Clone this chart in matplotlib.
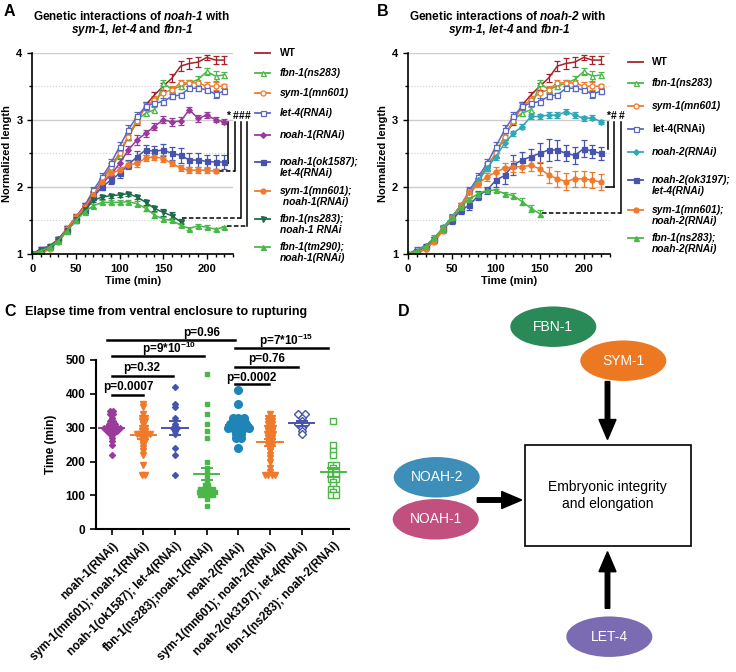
import numpy as np
import matplotlib
matplotlib.use('Agg')
import matplotlib.pyplot as plt
from matplotlib.lines import Line2D
from matplotlib.patches import Ellipse, Rectangle

plt.rcParams['font.family'] = ['Liberation Sans', 'DejaVu Sans']
plt.rcParams['font.weight'] = 'bold'
plt.rcParams['axes.labelweight'] = 'bold'
plt.rcParams['mathtext.fontset'] = 'custom'
plt.rcParams['mathtext.it'] = 'Liberation Sans:italic:bold'
plt.rcParams['mathtext.rm'] = 'Liberation Sans:italic:bold'
plt.rcParams['mathtext.bf'] = 'Liberation Sans:bold'

W, H = 736, 672

# ---------------- data: growth curves (normalized length, mean and SEM) ----------------
times = list(range(0, 221, 10))

wt = [1.0, 1.03, 1.1, 1.2, 1.38, 1.55, 1.72, 1.9, 2.1, 2.3, 2.5, 2.75, 2.97, 3.22, 3.37, 3.5, 3.62, 3.8, 3.84, 3.86, 3.93, 3.89, 3.89]
wt_err = [0, .02, .02, .03, .03, .03, .04, .04, .04, .05, .05, .05, .05, .05, .05, .05, .06, .07, .08, .08, .04, .06, .06]
fbn1 = [1.0, 1.05, 1.12, 1.22, 1.38, 1.53, 1.7, 1.88, 2.08, 2.28, 2.48, 2.75, 3.0, 3.1, 3.15, 3.55, 3.45, 3.5, 3.55, 3.6, 3.72, 3.65, 3.67]
fbn1_err = [0, .02, .02, .03, .03, .03, .03, .04, .04, .04, .04, .05, .05, .04, .04, .05, .04, .04, .04, .05, .05, .07, .04]
sym1 = [1.0, 1.0, 1.08, 1.18, 1.35, 1.52, 1.7, 1.88, 2.08, 2.3, 2.5, 2.75, 2.98, 3.2, 3.3, 3.4, 3.45, 3.55, 3.55, 3.55, 3.5, 3.5, 3.5]
sym1_err = [0, .02, .02, .02, .03, .03, .03, .04, .04, .05, .05, .05, .05, .05, .05, .12, .05, .05, .05, .05, .06, .06, .03]
let4 = [1.0, 1.07, 1.12, 1.22, 1.38, 1.55, 1.72, 1.95, 2.15, 2.35, 2.6, 2.85, 3.05, 3.2, 3.25, 3.27, 3.35, 3.37, 3.47, 3.47, 3.45, 3.38, 3.43]
let4_err = [0, .03, .03, .03, .03, .04, .04, .05, .05, .06, .07, .07, .07, .06, .05, .05, .04, .03, .03, .04, .04, .05, .04]

noah1 = [1.0, 1.05, 1.1, 1.22, 1.38, 1.55, 1.72, 1.88, 2.05, 2.18, 2.35, 2.55, 2.7, 2.8, 2.9, 3.0, 2.97, 2.98, 3.15, 3.02, 3.07, 3.0, 2.97]
noah1_err = [0, .02, .02, .03, .03, .04, .04, .04, .05, .05, .06, .06, .07, .05, .05, .05, .06, .06, .04, .05, .04, .04, .04]
noah1_let4 = [1.0, 1.08, 1.12, 1.22, 1.35, 1.5, 1.65, 1.85, 2.0, 2.1, 2.2, 2.33, 2.45, 2.55, 2.53, 2.55, 2.5, 2.47, 2.4, 2.4, 2.38, 2.37, 2.37]
noah1_let4_err = [0, .03, .03, .03, .04, .04, .04, .05, .05, .05, .06, .07, .08, .08, .08, .09, .1, .11, .1, .1, .1, .1, .1]
sym1_noah1 = [1.0, 1.05, 1.1, 1.2, 1.37, 1.55, 1.7, 1.88, 2.08, 2.2, 2.25, 2.33, 2.35, 2.43, 2.45, 2.42, 2.35, 2.28, 2.25, 2.25, 2.25, 2.23]
sym1_noah1_err = [0, .02, .02, .02, .03, .03, .03, .04, .04, .05, .05, .05, .05, .05, .05, .05, .04, .04, .04, .04, .04, .03]
fbn1_noah1 = [1.0, 1.05, 1.1, 1.2, 1.35, 1.5, 1.65, 1.8, 1.85, 1.87, 1.88, 1.9, 1.85, 1.77, 1.68, 1.62, 1.57, 1.48]
fbn1_noah1_err = [0, .02, .02, .03, .03, .03, .03, .03, .03, .03, .03, .03, .03, .04, .04, .05, .05, .04]
tm290_noah1 = [1.0, 1.05, 1.1, 1.2, 1.35, 1.5, 1.63, 1.72, 1.77, 1.77, 1.77, 1.78, 1.75, 1.68, 1.58, 1.52, 1.5, 1.43, 1.38, 1.42, 1.4, 1.37, 1.4]
tm290_noah1_err = [0, .02, .02, .03, .03, .03, .03, .03, .03, .03, .03, .03, .04, .04, .04, .03, .03, .03, .02, .03, .03, .02, .02]

noah2 = [1.0, 1.05, 1.12, 1.23, 1.4, 1.55, 1.72, 1.92, 2.1, 2.28, 2.45, 2.65, 2.8, 2.9, 3.05, 3.05, 3.07, 3.07, 3.12, 3.07, 3.02, 3.03, 2.97]
noah2_err = [0, .02, .02, .03, .03, .03, .04, .05, .04, .04, .05, .05, .04, .04, .04, .04, .04, .04, .04, .04, .04, .04, .03]
noah2_let4 = [1.0, 1.05, 1.12, 1.22, 1.37, 1.5, 1.65, 1.73, 1.87, 1.95, 2.1, 2.17, 2.33, 2.4, 2.45, 2.5, 2.55, 2.55, 2.5, 2.47, 2.57, 2.53, 2.5]
noah2_let4_err = [0, .02, .02, .03, .04, .05, .05, .07, .07, .05, .1, .12, .15, .12, .12, .15, .17, .15, .12, .13, .13, .1, .1]
sym1_noah2 = [1.0, 1.02, 1.08, 1.2, 1.37, 1.53, 1.72, 1.92, 2.05, 2.15, 2.22, 2.28, 2.3, 2.3, 2.32, 2.27, 2.18, 2.12, 2.08, 2.12, 2.12, 2.1, 2.07]
sym1_noah2_err = [0, .02, .02, .03, .03, .03, .04, .04, .05, .06, .08, .08, .08, .08, .08, .1, .12, .12, .12, .12, .12, .12, .12]
fbn1_noah2 = [1.0, 1.05, 1.12, 1.25, 1.38, 1.55, 1.7, 1.82, 1.9, 1.95, 1.95, 1.9, 1.87, 1.78, 1.68, 1.6]
fbn1_noah2_err = [0, .02, .02, .03, .03, .03, .03, .03, .03, .03, .02, .03, .04, .05, .05, .05]

# ---------------- data: panel C (time from ventral enclosure to rupture, min) ----------------
c_labels = ['noah-1(RNAi)', 'sym-1(mn601); noah-1(RNAi)', 'noah-1(ok1587); let-4(RNAi)',
            'fbn-1(ns283);noah-1(RNAi)', 'noah-2(RNAi)', 'sym-1(mn601); noah-2(RNAi)',
            'noah-2(ok3197); let-4(RNAi)', 'fbn-1(ns283); noah-2(RNAi)']
c_noah1 = [350, 350, 340, 340, 330, 320, 320, 310, 310, 310, 300, 300, 300, 300, 300, 300,
           290, 290, 290, 290, 280, 280, 270, 260, 250, 220]
c_sym1_noah1 = [370, 360, 340, 330, 330, 320, 320, 310, 300, 300, 290, 290, 280, 280, 280, 280,
                280, 270, 270, 260, 260, 250, 240, 230, 220, 190, 160, 160]
c_noah1_let4 = [420, 370, 360, 330, 310, 300, 300, 290, 280, 240, 220, 160]
c_fbn1_noah1 = [460, 370, 340, 310, 290, 270, 200, 180, 170, 160, 150, 140, 130, 130, 120, 120,
                120, 120, 120, 110, 110, 110, 110, 110, 110, 100, 100, 100, 100, 100, 90, 70]
c_noah2 = [410, 370, 330, 330, 330, 320, 320, 320, 310, 310, 310, 310, 300, 300, 300, 300, 300,
           290, 290, 280, 280, 270, 270, 240]
c_sym1_noah2 = [340, 330, 330, 320, 320, 310, 310, 300, 300, 300, 290, 290, 280, 280, 280, 270,
                270, 260, 260, 250, 250, 240, 230, 220, 210, 200, 180, 170, 160, 160, 160, 160]
c_noah2_let4 = [340, 340, 330, 320, 310, 310, 300, 290, 280]
c_fbn1_noah2 = [320, 250, 230, 220, 190, 190, 180, 170, 170, 160, 160, 150, 150, 140, 130, 120,
                120, 110, 100, 100]
# p-values: (text, group from, group to, line y, text x, text y)
pvals = [('p=0.0007', 0, 1.0, 396, 0.52, 421),
         ('p=0.32', 0, 1.93, 453, 0.95, 475),
         (r'p=9*10$^{\mathregular{-10}}$', 0, 2.9, 511, 1.81, 532),
         ('p=0.96', -0.15, 3.9, 558, 2.84, 581),
         ('p=0.0002', 3.9, 4.97, 430, 4.42, 448),
         ('p=0.76', 3.9, 5.9, 480, 4.89, 502),
         (r'p=7*10$^{\mathregular{-15}}$', 3.9, 6.83, 536, 5.52, 556)]

RED = '#a3242b'
GREEN = '#4bb749'
ORANGE = '#f07a2c'
BLUE = '#5a68c0'
PURPLE = '#9a3a9a'
NAVY = '#4654ae'
DKGREEN = '#1d6b4b'
CYAN = '#2fa9b8'
TEAL = '#1f85b6'

fig = plt.figure(figsize=(W / 100, H / 100), dpi=100)


def fx(px):
    return px / W


def fy(py):
    return 1 - py / H


def msize(marker):
    # diamonds look bigger than the other symbols at the same size
    return 2.9 if marker == 'D' else 3.6


def growth_axes(x0, x1):
    ax = fig.add_axes([fx(x0), fy(254), fx(x1) - fx(x0), fy(52.7) - fy(254)])
    ax.set_xlim(0, 230)
    ax.set_ylim(1, 4)
    ax.set_xticks([0, 50, 100, 150, 200])
    ax.set_xticks(range(0, 231, 10), minor=True)
    ax.set_yticks([1, 2, 3, 4])
    ax.set_yticks([1.5, 2.5, 3.5], minor=True)
    for v in (2, 3, 4):
        ax.axhline(v, color='#cdcdcd', lw=1.0, zorder=0)
    for v in (1.5, 2.5, 3.5):
        ax.axhline(v, color='#cdcdcd', lw=0.8, ls=':', zorder=0)
    for s in ('top', 'right'):
        ax.spines[s].set_visible(False)
    for s in ('left', 'bottom'):
        ax.spines[s].set_linewidth(1.2)
    ax.tick_params(which='both', direction='out', width=1.0, labelsize=8)
    ax.tick_params(which='major', length=3.5)
    ax.tick_params(which='minor', length=2.5)
    ax.set_xlabel('Time (min)', fontsize=8, labelpad=2)
    ax.set_ylabel('Normalized length', fontsize=8, labelpad=3)
    return ax


def draw_curve(ax, y, e, color, marker, filled):
    t = times[:len(y)]
    ax.errorbar(t, y, yerr=e, color=color, lw=1.1, elinewidth=0.9, capsize=2, capthick=0.9,
                marker=marker, ms=msize(marker), mfc=color if filled else 'white', mec=color,
                mew=0.9)


def draw_legend(specs, rows, x0, x1, xt):
    for (label, y, e, color, marker, filled, style), ry in zip(specs, rows):
        fig.add_artist(Line2D([fx(x0), fx((x0 + x1) / 2), fx(x1)], [fy(ry)] * 3, color=color,
                              lw=1.3, marker=marker, markevery=[1], ms=msize(marker),
                              mfc=color if filled else 'white', mec=color, mew=0.9))
        fig.text(fx(xt), fy(ry - 4.8), label, fontsize=7.4, style=style, va='top',
                 linespacing=1.1)


def draw_sig(ax, marks, lines, links, ytext):
    for x, s in marks:
        ax.text(x, ytext, s, ha='center', va='center', fontsize=7.5, clip_on=False)
    for x, y0, y1 in lines:
        ax.plot([x, x], [y0, y1], color='black', lw=1.1, clip_on=False)
    for xa, xb, y, dashed in links:
        ax.plot([xa, xb], [y, y], color='black', lw=1.1, ls=(0, (3, 1.5)) if dashed else '-',
                clip_on=False)


# ---------------- panel A ----------------
specs_a = [('WT', wt, wt_err, RED, None, True, 'normal'),
           ('fbn-1(ns283)', fbn1, fbn1_err, GREEN, '^', False, 'italic'),
           ('sym-1(mn601)', sym1, sym1_err, ORANGE, 'o', False, 'italic'),
           ('let-4(RNAi)', let4, let4_err, BLUE, 's', False, 'italic'),
           ('noah-1(RNAi)', noah1, noah1_err, PURPLE, 'D', True, 'italic'),
           ('noah-1(ok1587);\nlet-4(RNAi)', noah1_let4, noah1_let4_err, NAVY, 's', True, 'italic'),
           ('sym-1(mn601);\n noah-1(RNAi)', sym1_noah1, sym1_noah1_err, ORANGE, 'o', True, 'italic'),
           ('fbn-1(ns283);\nnoah-1 RNAi', fbn1_noah1, fbn1_noah1_err, DKGREEN, 'v', True, 'italic'),
           ('fbn-1(tm290);\nnoah-1(RNAi)', tm290_noah1, tm290_noah1_err, GREEN, '^', True, 'italic')]
axa = growth_axes(32.3, 233)
for sp in specs_a:
    draw_curve(axa, sp[1], sp[2], sp[3], sp[4], sp[5])
draw_legend(specs_a, [53, 73, 93, 113, 135, 162, 191, 219, 247], 255, 270, 280)
draw_sig(axa, [(224.6, '*'), (232.6, '#'), (239.5, '#'), (246.3, '#')],
         [(224.6, 2.96, 2.35), (232.6, 2.96, 2.24), (239.5, 2.96, 1.53), (246.3, 2.96, 1.41)],
         [(221, 224.6, 2.35, False), (213.5, 232.6, 2.24, True),
          (171, 239.5, 1.53, True), (223.5, 246.3, 1.41, True)], 3.06)
fig.text(fx(132), fy(17), r'Genetic interactions of $noah$-$1$ with', fontsize=8.5,
         ha='center', va='center')
fig.text(fx(132), fy(30.5), r'$sym$-$1$, $let$-$4$ and $fbn$-$1$', fontsize=8.5,
         ha='center', va='center')
fig.text(fx(4), fy(12), 'A', fontsize=11.5, va='center')

# ---------------- panel B ----------------
specs_b = [('WT', wt, wt_err, RED, None, True, 'normal'),
           ('fbn-1(ns283)', fbn1, fbn1_err, GREEN, '^', False, 'italic'),
           ('sym-1(mn601)', sym1, sym1_err, ORANGE, 'o', False, 'italic'),
           ('let-4(RNAi)', let4, let4_err, BLUE, 's', False, 'normal'),
           ('noah-2(RNAi)', noah2, noah2_err, CYAN, 'D', True, 'italic'),
           ('noah-2(ok3197);\nlet-4(RNAi)', noah2_let4, noah2_let4_err, NAVY, 's', True, 'italic'),
           ('sym-1(mn601);\nnoah-2(RNAi)', sym1_noah2, sym1_noah2_err, ORANGE, 'o', True, 'italic'),
           ('fbn-1(ns283);\nnoah-2(RNAi)', fbn1_noah2, fbn1_noah2_err, GREEN, '^', True, 'italic')]
axb = growth_axes(408, 610)
for sp in specs_b:
    draw_curve(axb, sp[1], sp[2], sp[3], sp[4], sp[5])
draw_legend(specs_b, [62, 83, 106, 129, 152, 180, 210, 238], 628, 643, 652)
draw_sig(axb, [(227.6, '*'), (234.5, '#'), (242.8, '#')],
         [(227.6, 2.96, 2.56), (234.5, 2.96, 2.0), (242.8, 2.96, 1.61)],
         [(226, 234.5, 2.0, False), (153, 242.8, 1.61, True)], 3.06)
fig.text(fx(508), fy(17), r'Genetic interactions of $noah$-$2$ with', fontsize=8.5,
         ha='center', va='center')
fig.text(fx(509), fy(30.5), r'$sym$-$1$, $let$-$4$ and $fbn$-$1$', fontsize=8.5,
         ha='center', va='center')
fig.text(fx(377), fy(12), 'B', fontsize=11.5, va='center')

# ---------------- panel C ----------------
groups_c = [(c_noah1, PURPLE, 'D', True, 3.0, 0.1),
            (c_sym1_noah1, ORANGE, 'v', True, 4.0, 0.1),
            (c_noah1_let4, NAVY, 'D', True, 3.0, 0.12),
            (c_fbn1_noah1, GREEN, 's', True, 3.3, 0.1),
            (c_noah2, TEAL, 'o', True, 5.5, 0.17),
            (c_sym1_noah2, ORANGE, 'v', True, 4.0, 0.1),
            (c_noah2_let4, NAVY, 'D', False, 4.2, 0.22),
            (c_fbn1_noah2, GREEN, 's', False, 4.2, 0.16)]


def swarm(vals, step):
    vals = np.asarray(vals, float)
    off = np.zeros(len(vals))
    for v in np.unique(vals):
        idx = np.where(vals == v)[0]
        off[idx] = (np.arange(len(idx)) - (len(idx) - 1) / 2) * step
    return off


axc = fig.add_axes([fx(96), fy(529.3), fx(349) - fx(96), fy(360) - fy(529.3)])
for i, (vals, color, marker, filled, ms, step) in enumerate(groups_c):
    v = np.asarray(vals, float)
    axc.plot(i + swarm(v, step), v, ls='none', marker=marker, ms=ms, mec=color, mew=1.0,
             mfc=color if filled else 'white', zorder=2)
    m = v.mean()
    sem = v.std(ddof=1) / np.sqrt(len(v))
    axc.plot([i - 0.4, i + 0.4], [m, m], color=color, lw=1.4, zorder=3)
    axc.errorbar(i, m, yerr=sem, color=color, lw=1.4, capsize=4, capthick=1.4, zorder=3)
for txt, g0, g1, yl, xt, yt in pvals:
    axc.plot([g0, g1], [yl, yl], color='black', lw=1.8, clip_on=False)
    axc.text(xt, yt, txt, ha='center', va='center', fontsize=8.5, clip_on=False)
axc.set_xlim(-0.5, 7.5)
axc.set_ylim(0, 500)
axc.set_yticks([0, 100, 200, 300, 400, 500])
axc.set_xticks(range(len(c_labels)))
axc.set_xticklabels(c_labels, rotation=45, ha='right', va='top', rotation_mode='anchor')
for s in ('top', 'right'):
    axc.spines[s].set_visible(False)
for s in ('left', 'bottom'):
    axc.spines[s].set_linewidth(1.5)
axc.tick_params(direction='out', length=4, width=1.2, labelsize=8.5)
axc.set_ylabel('Time (min)', fontsize=8.5, labelpad=6)
fig.text(fx(25), fy(312), 'Elapse time from ventral enclosure to rupturing', fontsize=9,
         va='center')
fig.text(fx(4), fy(312), 'C', fontsize=11.5, va='center')

# ---------------- panel D (schematic) ----------------
axd = fig.add_axes([fx(370), 0, fx(736) - fx(370), fy(300)])
axd.set_xlim(370, 736)
axd.set_ylim(672, 300)
axd.axis('off')
nodes = [('FBN-1', '#2a8a57', 553.3, 326.7),
         ('SYM-1', '#ec7822', 623.3, 360.7),
         ('NOAH-2', '#3d8fba', 436.7, 477.3),
         ('NOAH-1', '#c2507f', 435.7, 519.3),
         ('LET-4', '#7a6bb2', 609.3, 636.7)]
for name, color, cx, cy in nodes:
    axd.add_patch(Ellipse((cx, cy), 86, 40.5, facecolor=color, edgecolor='none'))
    axd.text(cx, cy, name, color='white', fontsize=10, fontweight='normal',
             ha='center', va='center')
axd.add_patch(Rectangle((525, 445), 165.7, 101, facecolor='white', edgecolor='black', lw=1.2))
axd.text(607.8, 495.5, 'Embryonic integrity\nand elongation', fontsize=10, fontweight='normal',
         ha='center', va='center', linespacing=1.25)
arrow_kw = dict(width=4.5, head_width=17, head_length=20, length_includes_head=True,
                color='black')
axd.arrow(607.5, 381.5, 0, 58, **arrow_kw)
axd.arrow(477.3, 500, 44.4, 0, **arrow_kw)
axd.arrow(607.5, 608.3, 0, -56.6, **arrow_kw)
fig.text(fx(398), fy(312), 'D', fontsize=11.5, va='center')

fig.savefig('out.png', dpi=100)
